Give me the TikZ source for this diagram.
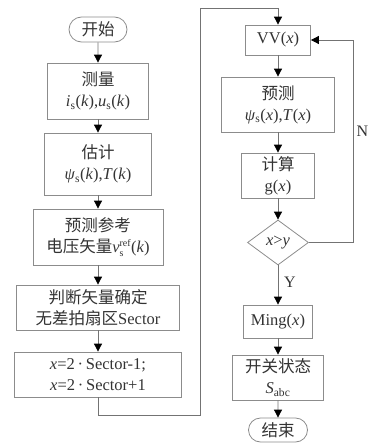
\documentclass[tikz,border=0pt]{standalone}
\usepackage{fontspec}
\setmainfont{Liberation Serif}
\newfontfamily\cjk{Noto Sans CJK SC}
\usetikzlibrary{arrows.meta,shapes.geometric,shapes.misc}
\newcommand{\zh}[1]{{\cjk #1}}
\newcommand{\vi}[1]{\textit{#1}}
\newcommand{\smallidx}[1]{\hbox{\fontsize{10}{10}\selectfont #1}}
\begin{document}
\begin{tikzpicture}[x=1pt,y=-1pt,
 box/.style={draw=black!45, line width=0.8pt, align=center, inner sep=1pt,
   font=\fontsize{16.5}{21}\selectfont, text=black!80},
 term/.style={box, rounded rectangle},
 dec/.style={box, diamond, inner sep=0pt},
 arr/.style={draw=black!55, line width=0.8pt, -{Triangle[width=8pt,length=8pt,color=black]}},
 ln/.style={draw=black!55, line width=0.8pt},
 lab/.style={font=\fontsize{16}{18}\selectfont, text=black!80, inner sep=0pt}]
\useasboundingbox (0,0) rectangle (367,447);
% left column
\node[term, minimum width=60pt, minimum height=25pt] (start) at (98,29.5) {\zh{开始}};
\node[box, minimum width=101pt, minimum height=56pt] (meas) at (98,91)
  {\zh{测量}\\\vi{i}\textsubscript{s}(\vi{k}),\vi{u}\textsubscript{s}(\vi{k})};
\node[box, minimum width=107pt, minimum height=62pt] (est) at (98,164)
  {\zh{估计}\\\vi{ψ}\textsubscript{s}(\vi{k}),\vi{T}(\vi{k})};
\node[box, minimum width=130pt, minimum height=56pt] (pref) at (98,237)
  {\zh{预测参考}\\\zh{电压矢量}\vi{v}$_{\smallidx{s}}^{\smallidx{ref}}$(\vi{k})};
\node[box, minimum width=163pt, minimum height=45pt] (sect) at (98,307.5)
  {\zh{判断矢量确定}\\\zh{无差拍扇区}Sector};
\node[box, minimum width=167pt, minimum height=45pt] (xset) at (98,374.5)
  {\vi{x}=2\,·\,Sector-1;\\\vi{x}=2\,·\,Sector+1};
% right column
\node[box, minimum width=65pt, minimum height=30pt] (vv) at (278,40) {VV(\vi{x})};
\node[box, minimum width=113pt, minimum height=55pt] (pred) at (278,104.5)
  {\zh{预测}\\\vi{ψ}\textsubscript{s}(\vi{x}),\vi{T}(\vi{x})};
\node[box, minimum width=73pt, minimum height=45pt] (calc) at (278,175.5)
  {\zh{计算}\\g(\vi{x})};
\node[dec, minimum width=61pt, minimum height=45pt] (dia) at (278,242.5) {\vi{x}>\vi{y}};
\node[box, minimum width=69pt, minimum height=33pt] (ming) at (278,321.5) {Ming(\vi{x})};
\node[box, minimum width=91pt, minimum height=45pt] (sw) at (278,377.5)
  {\zh{开关状态}\\\vi{S}\textsubscript{abc}};
\node[term, minimum width=61pt, minimum height=24pt] (end) at (278,430) {\zh{结束}};
% labels
\node[lab] (ly) at (290,282) {Y};
\node[lab] (ln) at (362.5,131) {N};
% coordinates
\coordinate (c1) at (98,415);
\coordinate (c2) at (200,415);
\coordinate (c3) at (200,8);
\coordinate (c4) at (278,8);
\coordinate (d1) at (353,242.5);
\coordinate (d2) at (353,40);
% connectors
\draw[arr] (start) -- (meas);
\draw[arr] (meas) -- (est);
\draw[arr] (est) -- (pref);
\draw[arr] (pref) -- (sect);
\draw[arr] (sect) -- (xset);
\draw[arr] (xset.south) -- (c1) -- (c2) -- (c3) -- (c4) -- (vv.north);
\draw[arr] (vv) -- (pred);
\draw[arr] (pred) -- (calc);
\draw[arr] (calc) -- (dia);
\draw[arr] (dia) -- (ming);
\draw[arr] (ming) -- (sw);
\draw[arr] (sw) -- (end);
\draw[arr] (dia.east) -- (d1) -- (d2) -- (vv.east);
\end{tikzpicture}
\end{document}
